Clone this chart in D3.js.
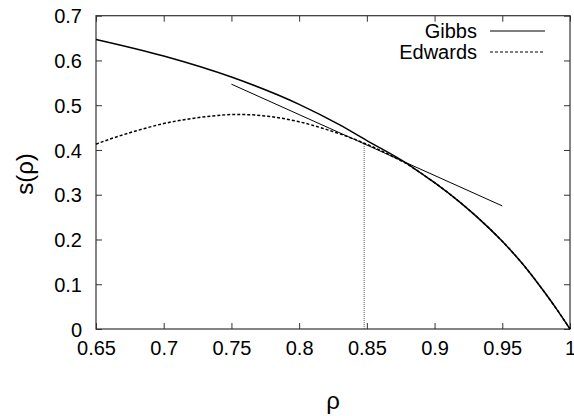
<!DOCTYPE html>
<html>
<head>
<meta charset="utf-8">
<script src="https://cdn.jsdelivr.net/npm/d3@7"></script>
<style>
  body { margin: 0; background: #fff; }
  svg { display: block; font-family: "Liberation Sans", Arial, sans-serif; }
</style>
</head>
<body>
<svg id="chart" width="574" height="416"></svg>
<script>
// data
const xTicks = [0.65, 0.7, 0.75, 0.8, 0.85, 0.9, 0.95, 1];
const yTicks = [0, 0.1, 0.2, 0.3, 0.4, 0.5, 0.6, 0.7];

const gibbsRho = [0.65, 0.70, 0.75, 0.80, 0.83, 0.85, 0.88, 0.89, 0.90, 0.92, 0.94, 0.95, 0.96, 0.97, 0.98, 0.99, 1.0];
const gibbsS   = [0.647, 0.610, 0.563, 0.502, 0.456, 0.421, 0.369, 0.348, 0.327, 0.280, 0.226, 0.196, 0.163, 0.127, 0.087, 0.045, 0.0];

const edwardsRho = [0.65, 0.66, 0.68, 0.70, 0.72, 0.74, 0.75, 0.76, 0.78, 0.80, 0.82, 0.84, 0.848, 0.86, 0.87, 0.88, 0.89, 0.90, 0.92, 0.94, 0.95, 0.96, 0.97, 0.98, 0.99, 1.0];
const edwardsS   = [0.413, 0.424, 0.443, 0.459, 0.470, 0.477, 0.479, 0.479, 0.474, 0.463, 0.446, 0.425, 0.4154, 0.399, 0.384, 0.368, 0.348, 0.327, 0.280, 0.226, 0.196, 0.163, 0.127, 0.087, 0.045, 0.0];

// common tangent and transition density
const tangentRho = [0.75, 0.95];
const tangentS   = [0.547, 0.275];
const transitionRho = 0.848;
const transitionS = 0.4154;

const series = [
  { name: "Gibbs", rho: gibbsRho, s: gibbsS, dash: null },
  { name: "Edwards", rho: edwardsRho, s: edwardsS, dash: "3,2" }
];

const svg = d3.select("#chart");
const margin = { left: 96, right: 4, top: 15.7, bottom: 87 };
const width = 574 - margin.left - margin.right;
const height = 416 - margin.top - margin.bottom;

const x = d3.scaleLinear().domain([0.65, 1]).range([0, width]);
const y = d3.scaleLinear().domain([0, 0.7]).range([height, 0]);

const g = svg.append("g")
  .attr("transform", `translate(${margin.left},${margin.top})`);

const tickLen = 6;
const frameColor = "#333";

// axes: labels on left/bottom, ticks on all four sides pointing inward
const axBottom = g.append("g")
  .attr("transform", `translate(0,${height})`)
  .call(d3.axisBottom(x).tickValues(xTicks).tickSize(-tickLen).tickPadding(12)
    .tickFormat(d => String(+d.toFixed(2))));
const axLeft = g.append("g")
  .call(d3.axisLeft(y).tickValues(yTicks).tickSize(-tickLen).tickPadding(14)
    .tickFormat(d => String(+d.toFixed(1))));
const axTop = g.append("g")
  .call(d3.axisTop(x).tickValues(xTicks).tickSize(-tickLen).tickFormat(""));
const axRight = g.append("g")
  .attr("transform", `translate(${width},0)`)
  .call(d3.axisRight(y).tickValues(yTicks).tickSize(-tickLen).tickFormat(""));

[axBottom, axLeft, axTop, axRight].forEach(a => {
  a.select(".domain").remove();
  a.selectAll("line").attr("stroke", frameColor);
  a.selectAll("text")
    .attr("fill", "#000")
    .style("font-size", "20px")
    .style("font-family", "'Liberation Sans', Arial, sans-serif");
});
axBottom.selectAll("text").attr("dy", "0.71em");
axLeft.selectAll("text").attr("dy", "0.36em");

g.append("rect")
  .attr("width", width)
  .attr("height", height)
  .attr("fill", "none")
  .attr("stroke", frameColor)
  .attr("stroke-width", 1.2);

// vertical marker at the transition density
g.append("line")
  .attr("x1", x(transitionRho)).attr("x2", x(transitionRho))
  .attr("y1", y(0)).attr("y2", y(transitionS))
  .attr("stroke", "#555")
  .attr("stroke-width", 1)
  .attr("stroke-dasharray", "1,1");

// tangent line
g.append("line")
  .attr("x1", x(tangentRho[0])).attr("y1", y(tangentS[0]))
  .attr("x2", x(tangentRho[1])).attr("y2", y(tangentS[1]))
  .attr("stroke", "#000")
  .attr("stroke-width", 1);

const lineGen = d3.line()
  .x(d => x(d[0]))
  .y(d => y(d[1]))
  .curve(d3.curveMonotoneX);

// Edwards first so Gibbs sits on top where they overlap
series.slice().reverse().forEach(sr => {
  g.append("path")
    .datum(sr.rho.map((r, i) => [r, sr.s[i]]))
    .attr("d", lineGen)
    .attr("fill", "none")
    .attr("stroke", "#000")
    .attr("stroke-width", 1.5)
    .attr("stroke-dasharray", sr.dash);
});

// legend
const legend = svg.append("g");
series.forEach((sr, i) => {
  const ly = 31 + i * 21;
  legend.append("text")
    .attr("x", 477)
    .attr("y", ly)
    .attr("dy", "0.33em")
    .attr("text-anchor", "end")
    .style("font-size", "20px")
    .text(sr.name);
  legend.append("line")
    .attr("x1", 490).attr("x2", 545)
    .attr("y1", ly).attr("y2", ly)
    .attr("stroke", "#000")
    .attr("stroke-width", 1.2)
    .attr("stroke-dasharray", sr.dash);
});

// axis titles
svg.append("text")
  .attr("x", margin.left + width / 2)
  .attr("y", 409)
  .attr("text-anchor", "middle")
  .style("font-size", "24px")
  .text("ρ");

svg.append("text")
  .attr("transform", "translate(32.5,174) rotate(-90)")
  .attr("text-anchor", "middle")
  .style("font-size", "24px")
  .text("s(ρ)");
</script>
</body>
</html>
